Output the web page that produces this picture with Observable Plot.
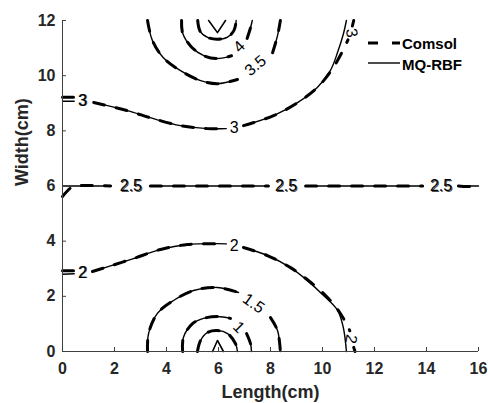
<!DOCTYPE html>
<html><head><meta charset="utf-8">
<script src="https://cdn.jsdelivr.net/npm/d3@7"></script>
<script src="https://cdn.jsdelivr.net/npm/@observablehq/plot@0.6"></script>
<style>
body{margin:0;background:#fff;}
#wrap{position:relative;width:488px;height:403px;font-family:"Liberation Sans",Arial,sans-serif;}
#legend{position:absolute;left:366px;top:33px;}
</style></head><body><div id="wrap"></div>
<script>
// ---- axis ticks ----
const xTicks = [0, 2, 4, 6, 8, 10, 12, 14, 16];
const yTicks = [0, 2, 4, 6, 8, 10, 12];

// ---- contour segments: [length, width] ----
// bottom centre (around x=6, y=0)
const botTriangle = [[5.77,0],[5.96,0.4],[6.19,0]];
const lvl05 = [[5.19,0],[5.31,0.4],[5.58,0.69],[5.96,0.76],[6.35,0.65],[6.65,0.29],[6.73,0]];
const lvl1a = [[4.62,0],[4.65,0.51],[5.0,1.01],[5.42,1.2],[5.96,1.27],[6.46,1.2]];
const lvl1b = [[7.08,0.65],[7.23,0.29],[7.27,0]];
const lvl15a = [[3.27,0],[3.31,0.65],[3.65,1.38],[4.27,1.85],[5.04,2.21],[5.96,2.32],[6.77,2.14]];
const lvl15b = [[8.0,1.23],[8.27,0.76],[8.38,0]];
const lvl2aRbf = [[0,2.8],[0.45,2.82]];
const lvl2aComsol = [[0,2.93],[0.45,2.93]];
const lvl2b = [[1.15,2.9],[1.6,3.03],[2.73,3.37],[3.77,3.7],[4.81,3.88],[5.96,3.91],[6.3,3.9]];
const lvl2cRbf = [[6.96,3.77],[7.88,3.48],[8.77,3.04],[9.42,2.57],[10.04,2.03],[10.58,1.49],[10.8,0.87],[10.92,0]];
const lvl2cComsol = [[6.96,3.77],[7.88,3.48],[8.77,3.04],[9.42,2.6],[10.1,2.05],[10.6,1.5],[10.95,0.95],[11.05,0.75]];
const lvl2dComsol = [[11.2,0.15],[11.25,0]];
// middle line
const lvl25Rbf = [[[0,6],[1.85,6]], [[3.38,6],[7.92,6]], [[9.35,6],[13.85,6]], [[15.23,6],[16,6]]];
const lvl25Comsol = [[[0,5.62],[0.3,5.92],[0.5,6],[1.85,6]], [[3.38,6],[7.92,6]], [[9.35,6],[13.85,6]], [[15.23,6],[15.8,6],[15.96,6.12]]];
// top centre (around x=6, y=12)
const lvl3aRbf = [[0,9.07],[0.45,9.07]];
const lvl3aComsol = [[0,9.22],[0.45,9.22]];
const lvl3b = [[1.2,9.03],[2.5,8.73],[3.5,8.44],[4.54,8.19],[5.58,8.08],[6.3,8.08]];
const lvl3cRbf = [[6.96,8.19],[8.12,8.55],[9.04,9.02],[9.8,9.57],[10.3,10.18],[10.6,10.9],[10.8,11.5],[10.92,12]];
const lvl3cComsol = [[6.96,8.19],[8.12,8.55],[9.04,9.02],[9.8,9.57],[10.35,10.2],[10.75,10.85],[10.98,11.3]];
const lvl3dComsol = [[11.15,11.8],[11.2,12]];
const lvl35a = [[3.27,12],[3.46,11.27],[3.88,10.65],[4.54,10.18],[5.31,9.82],[5.96,9.71],[6.73,9.86]];
const lvl35b = [[8.08,10.83],[8.27,11.45],[8.38,12]];
const lvl4a = [[4.58,12],[4.62,11.55],[4.95,11.05],[5.45,10.72],[5.96,10.62],[6.5,10.72]];
const lvl4b = [[7.1,11.35],[7.22,11.7],[7.3,12]];
const lvl45 = [[5.2,12],[5.3,11.6],[5.6,11.38],[5.96,11.32],[6.35,11.4],[6.6,11.65],[6.68,12]];
const topTriangle = [[5.62,12],[5.96,11.56],[6.27,12]];

// ---- contour labels ----
const labelText  = ["3",  "3",  "3",   "3.5", "4",   "2.5", "2.5", "2.5", "2",  "2",  "2",   "1.5", "1"];
const labelX     = [0.77, 6.6,  11.12, 7.42,  6.8,   2.63,  8.6,   14.56, 0.77, 6.6,  11.1,  7.35,  6.78];
const labelY     = [9.1,  8.1,  11.55, 10.36, 11.05, 6,     6,     6,     2.86, 3.84, 0.45,  1.74,  0.88];
const labelAngle = [0,    0,    80,    -40,   -45,   0,     0,     0,     0,    0,    100,   35,    45];
const labelDouble= [true, false,false, false, false, true,  true,  true,  true, false,false, false, false];

// ---- build tables ----
let segId = 0;
function rowsOf(segs) {
  const out = [];
  for (const seg of segs) { segId++; for (const [x, y] of seg) out.push({seg: segId, x, y}); }
  return out;
}
const shared = [lvl05, lvl1a, lvl1b, lvl15a, lvl15b, lvl2b, lvl3b, lvl35a, lvl35b, lvl4a, lvl4b, lvl45];
const rbfCurves = rowsOf([...shared, lvl2aRbf, lvl2cRbf, ...lvl25Rbf, lvl3aRbf, lvl3cRbf]);
const comsolCurves = rowsOf([...shared, lvl2aComsol, lvl2cComsol, lvl2dComsol, ...lvl25Comsol, lvl3aComsol, lvl3cComsol, lvl3dComsol]);
const tris = rowsOf([botTriangle, topTriangle]);
const labels = labelText.map((t, i) => ({t, x: labelX[i], y: labelY[i], a: labelAngle[i], d: labelDouble[i]}));

const axisColor = "#404040";
const textColor = "#262626";
const chart = Plot.plot({
  width: 488, height: 403,
  marginLeft: 62, marginRight: 10, marginTop: 20, marginBottom: 52,
  x: {domain: [0, 16]},
  y: {domain: [0, 12]},
  style: {fontFamily: '"Liberation Sans", Arial, sans-serif', background: "white", overflow: "visible"},
  marks: [
    Plot.line(rbfCurves, {x: "x", y: "y", z: "seg", stroke: "#000", strokeWidth: 1.4, curve: "catmull-rom"}),
    Plot.line(comsolCurves, {x: "x", y: "y", z: "seg", stroke: "#000", strokeWidth: 3, strokeDasharray: "11,12", curve: "catmull-rom"}),
    Plot.line(tris, {x: "x", y: "y", z: "seg", stroke: "#000", strokeWidth: 1.6}),
    Plot.text(labels, {x: "x", y: "y", text: "t", rotate: "a", fontSize: 16, fill: "#000"}),
    Plot.text(labels.filter(d => d.d), {x: "x", y: "y", text: "t", rotate: "a", fontSize: 16, fill: "#000", dx: 1, dy: 0.5, fillOpacity: 0.7}),
    Plot.ruleY([0], {stroke: axisColor}),
    Plot.ruleX([0], {stroke: axisColor}),
    Plot.ruleX(xTicks, {x: d => d, y1: 0, y2: 0, insetTop: -4, stroke: axisColor}),
    Plot.ruleY(yTicks, {y: d => d, x1: 0, x2: 0, insetRight: -4, stroke: axisColor}),
    Plot.axisX(xTicks, {tickSize: 0, tickPadding: 11, fontSize: 16, fontWeight: "bold", fill: textColor, label: null}),
    Plot.axisY(yTicks, {tickSize: 0, tickPadding: 7, fontSize: 16, fontWeight: "bold", fill: textColor, label: null}),
    Plot.text(["Length(cm)"], {frameAnchor: "bottom", dy: 46, fontSize: 18, fontWeight: "bold", fill: textColor}),
    Plot.text(["Width(cm)"], {frameAnchor: "left", dx: -40, rotate: -90, fontSize: 18, fontWeight: "bold", fill: textColor})
  ]
});
const wrap = document.getElementById("wrap");
wrap.appendChild(chart);

// legend (outside the SVG, overlaid)
const legend = document.createElement("div");
legend.id = "legend";
legend.innerHTML = `<svg width="120" height="45" style="font-family:'Liberation Sans',Arial,sans-serif">
  <line x1="2" x2="34" y1="10" y2="10" stroke="#000" stroke-width="3" stroke-dasharray="10,14"/>
  <text x="36" y="15.5" font-size="15" font-weight="bold" fill="#000">Comsol</text>
  <line x1="2" x2="34" y1="30" y2="30" stroke="#000" stroke-width="1.4"/>
  <text x="36" y="36.5" font-size="15" font-weight="bold" fill="#000">MQ-RBF</text>
</svg>`;
wrap.appendChild(legend);
</script>
</body></html>
